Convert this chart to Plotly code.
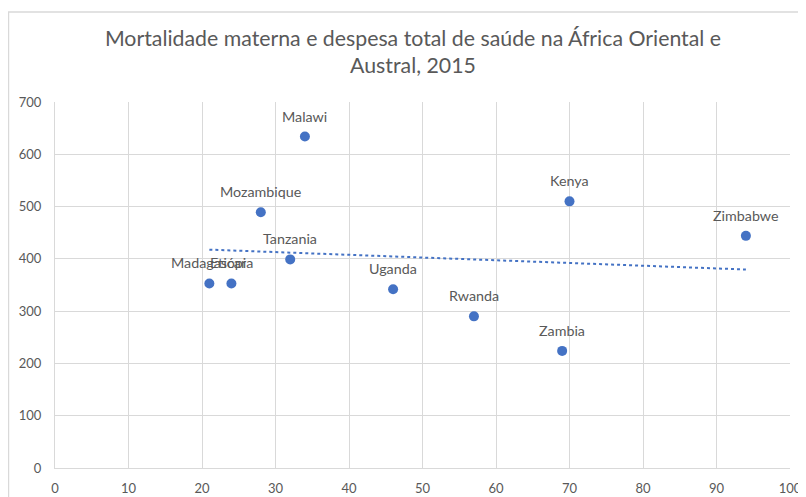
import numpy as np
import plotly.graph_objects as go

countries = ["Madagascar", "Etiópia", "Mozambique", "Tanzania", "Malawi",
             "Uganda", "Rwanda", "Zambia", "Kenya", "Zimbabwe"]
spending = [21, 24, 28, 32, 34, 46, 57, 69, 70, 94]
mortality = [353, 353, 489, 399, 634, 342, 290, 224, 510, 444]

x_ticks = list(range(0, 101, 10))
y_ticks = list(range(0, 701, 100))

title_text = "Mortalidade materna e despesa total de saúde na África Oriental e<br>Austral, 2015"

blue = "#4472C4"
gray_text = "#595959"
grid = "#D9D9D9"
font_family = "Lato, 'Open Sans', sans-serif"

# linear trend line (least squares) from the data
slope, intercept = np.polyfit(spending, mortality, 1)
trend_x = [min(spending), max(spending)]
trend_y = [slope * v + intercept for v in trend_x]

fig = go.Figure()
fig.add_trace(go.Scatter(
    x=trend_x, y=trend_y, mode="lines",
    line=dict(color=blue, width=2, dash="dot"),
    hoverinfo="skip", showlegend=False,
))
fig.add_trace(go.Scatter(
    x=spending, y=mortality, mode="markers",
    marker=dict(color=blue, size=10),
    text=countries, showlegend=False,
))

annotations = [
    dict(x=xv, y=yv, text=name, xref="x", yref="y", showarrow=False,
         yanchor="bottom", xanchor="center", yshift=10,
         font=dict(family=font_family, size=14.3, color=gray_text))
    for name, xv, yv in zip(countries, spending, mortality)
]

fig.update_layout(
    width=798, height=489,
    margin=dict(l=47, r=16, t=94, b=29, autoexpand=False),
    paper_bgcolor="white", plot_bgcolor="white",
    font=dict(family=font_family, color=gray_text),
    title=dict(text=title_text, x=0.5075, xref="container", xanchor="center",
               y=0.923, yref="container", yanchor="top",
               font=dict(family=font_family, size=21.3, color=gray_text)),
    xaxis=dict(range=[0, 100], tickvals=x_ticks, showgrid=True, gridcolor=grid,
               gridwidth=1, zeroline=False, showline=True, linecolor=grid,
               mirror=False, ticks="", tickfont=dict(size=13, color=gray_text),
               ticklabelstandoff=8, automargin=False),
    yaxis=dict(range=[0, 700], tickvals=y_ticks, showgrid=True, gridcolor=grid,
               gridwidth=1, zeroline=False, showline=True, linecolor=grid,
               ticks="", tickfont=dict(size=13, color=gray_text),
               ticklabelstandoff=10, automargin=False),
    annotations=annotations,
    shapes=[dict(type="rect", xref="paper", yref="paper",
                 x0=-0.0633, x1=1.05, y0=-0.2, y1=1.2459,
                 line=dict(color=grid, width=1.5), fillcolor="rgba(0,0,0,0)",
                 layer="below")],
)

fig.write_html("out.html")
